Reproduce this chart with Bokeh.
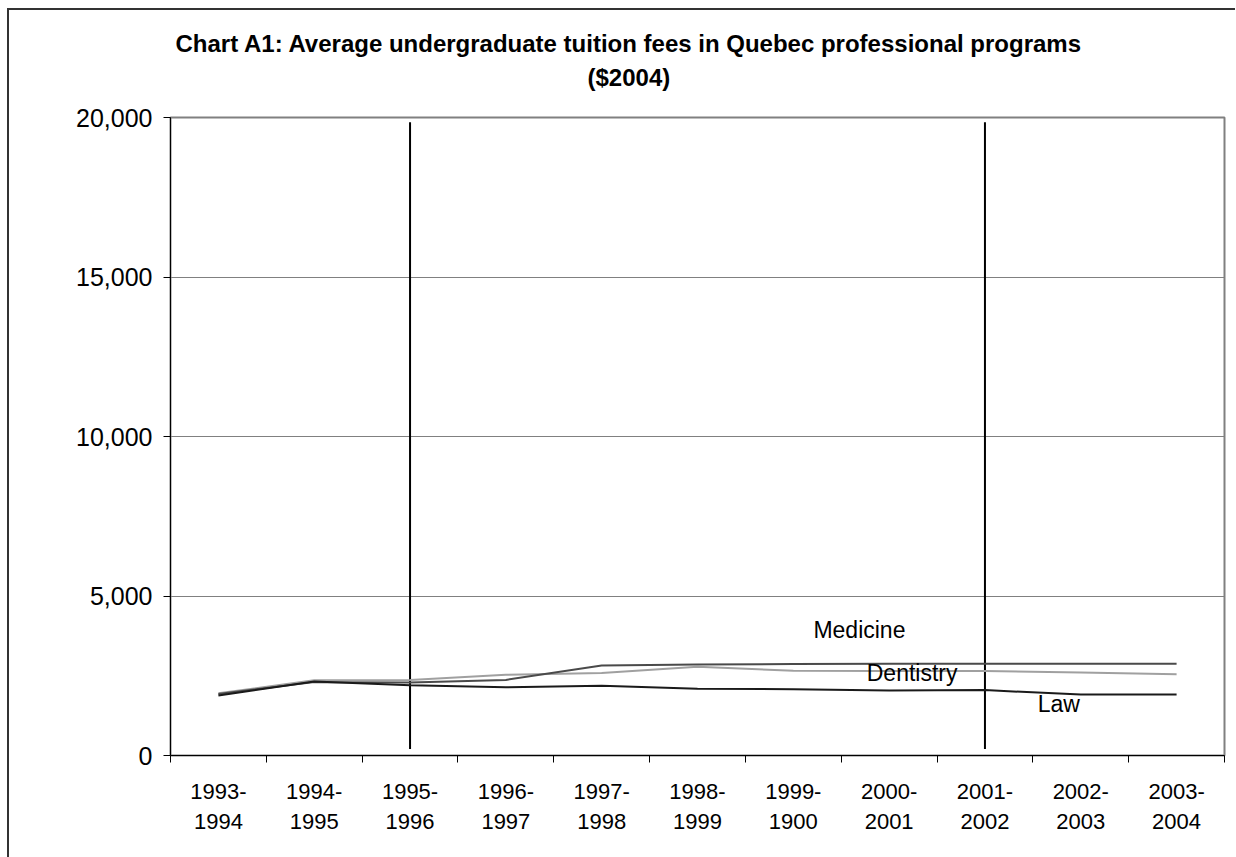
from bokeh.plotting import figure
from bokeh.models import FixedTicker, NumeralTickFormatter, Range1d, Label, ColumnDataSource, Title
from bokeh.embed import file_html
from bokeh.resources import INLINE

categories = ["1993-1994", "1994-1995", "1995-1996", "1996-1997", "1997-1998", "1998-1999",
              "1999-1900", "2000-2001", "2001-2002", "2002-2003", "2003-2004"]
medicine = [1930, 2300, 2290, 2370, 2820, 2850, 2870, 2880, 2880, 2880, 2880]
dentistry = [1950, 2360, 2370, 2530, 2590, 2780, 2660, 2650, 2650, 2600, 2550]
law = [1880, 2320, 2200, 2140, 2190, 2090, 2080, 2040, 2050, 1910, 1910]
marker_years = ["1995-1996", "2001-2002"]
y_ticks = [0, 5000, 10000, 15000, 20000]
series_labels = [("Medicine", 7.19, 3920), ("Dentistry", 7.74, 2580), ("Law", 9.27, 1600)]
title_lines = ["Chart A1: Average undergraduate tuition fees in Quebec professional programs", "($2004)"]

FONT = "Liberation Sans"
n = len(categories)
xs = [i + 0.5 for i in range(n)]

p = figure(width=1228, height=849, output_backend="svg", toolbar_location=None,
           x_range=Range1d(0, n), y_range=Range1d(0, 20000),
           min_border_left=161, min_border_right=13, min_border_bottom=104, min_border_top=107,
           background_fill_color="white", border_fill_color="white")

p.styles = {"border-left": "2px solid #333333", "border-top": "2px solid #333333",
            "box-sizing": "border-box", "margin-left": "7px", "margin-top": "8px"}

# title lines: p.title is the outer line; a small spacer keeps the second line off the frame
p.title.text = title_lines[0]
p.title.align = "left"
p.title.offset = 5
p.title.text_font = FONT
p.title.text_font_size = "24px"
p.title.text_font_style = "bold"
p.title.text_color = "black"
p.title.standoff = 6
spacer = Title(text=" ", text_font_size="1px", standoff=22)
p.add_layout(spacer, "above")
t2 = Title(text=title_lines[1], align="left", offset=417, text_font=FONT, text_font_size="24px",
           text_font_style="bold", text_color="black", standoff=4)
p.add_layout(t2, "above")

p.outline_line_color = "#808080"
p.outline_line_width = 2

# x axis
p.xaxis.ticker = FixedTicker(ticks=xs, minor_ticks=list(range(n + 1)))
p.xaxis.major_label_overrides = {x: c.replace("-", "-\n") for x, c in zip(xs, categories)}
p.xaxis.major_tick_line_color = None
p.xaxis.minor_tick_in = 0
p.xaxis.minor_tick_out = 7
p.xaxis.minor_tick_line_color = "black"
p.xaxis.minor_tick_line_width = 1
p.xaxis.axis_line_color = "black"
p.xaxis.axis_line_width = 1
p.xaxis.major_label_text_font = FONT
p.xaxis.major_label_text_font_size = "22px"
p.xaxis.major_label_text_color = "black"
p.xaxis.major_label_standoff = 16

# y axis
p.yaxis.ticker = FixedTicker(ticks=y_ticks)
p.yaxis.formatter = NumeralTickFormatter(format="0,0")
p.yaxis.major_tick_in = 0
p.yaxis.major_tick_out = 7
p.yaxis.minor_tick_line_color = None
p.yaxis.major_tick_line_color = "black"
p.yaxis.axis_line_color = "black"
p.yaxis.major_label_text_font = FONT
p.yaxis.major_label_text_font_size = "25px"
p.yaxis.major_label_text_color = "black"
p.yaxis.major_label_standoff = 11

p.xgrid.grid_line_color = None
p.ygrid.grid_line_color = "#808080"
p.ygrid.grid_line_width = 1

# vertical marker lines
mx = [categories.index(m) + 0.5 for m in marker_years]
p.segment(x0=mx, x1=mx, y0=[200] * len(mx), y1=[19850] * len(mx), line_color="black", line_width=2)

src = ColumnDataSource(dict(x=xs, med=medicine, den=dentistry, law=law))
p.line("x", "den", source=src, line_color="#a0a0a0", line_width=2)
p.line("x", "med", source=src, line_color="#4a4a4a", line_width=2)
p.line("x", "law", source=src, line_color="#1a1a1a", line_width=2)

for txt, lx, ly in series_labels:
    p.add_layout(Label(x=lx, y=ly, text=txt, text_align="center", text_baseline="middle",
                       text_font=FONT, text_font_size="23px", text_color="black"))

open("out.html", "w").write(file_html(p, INLINE))
